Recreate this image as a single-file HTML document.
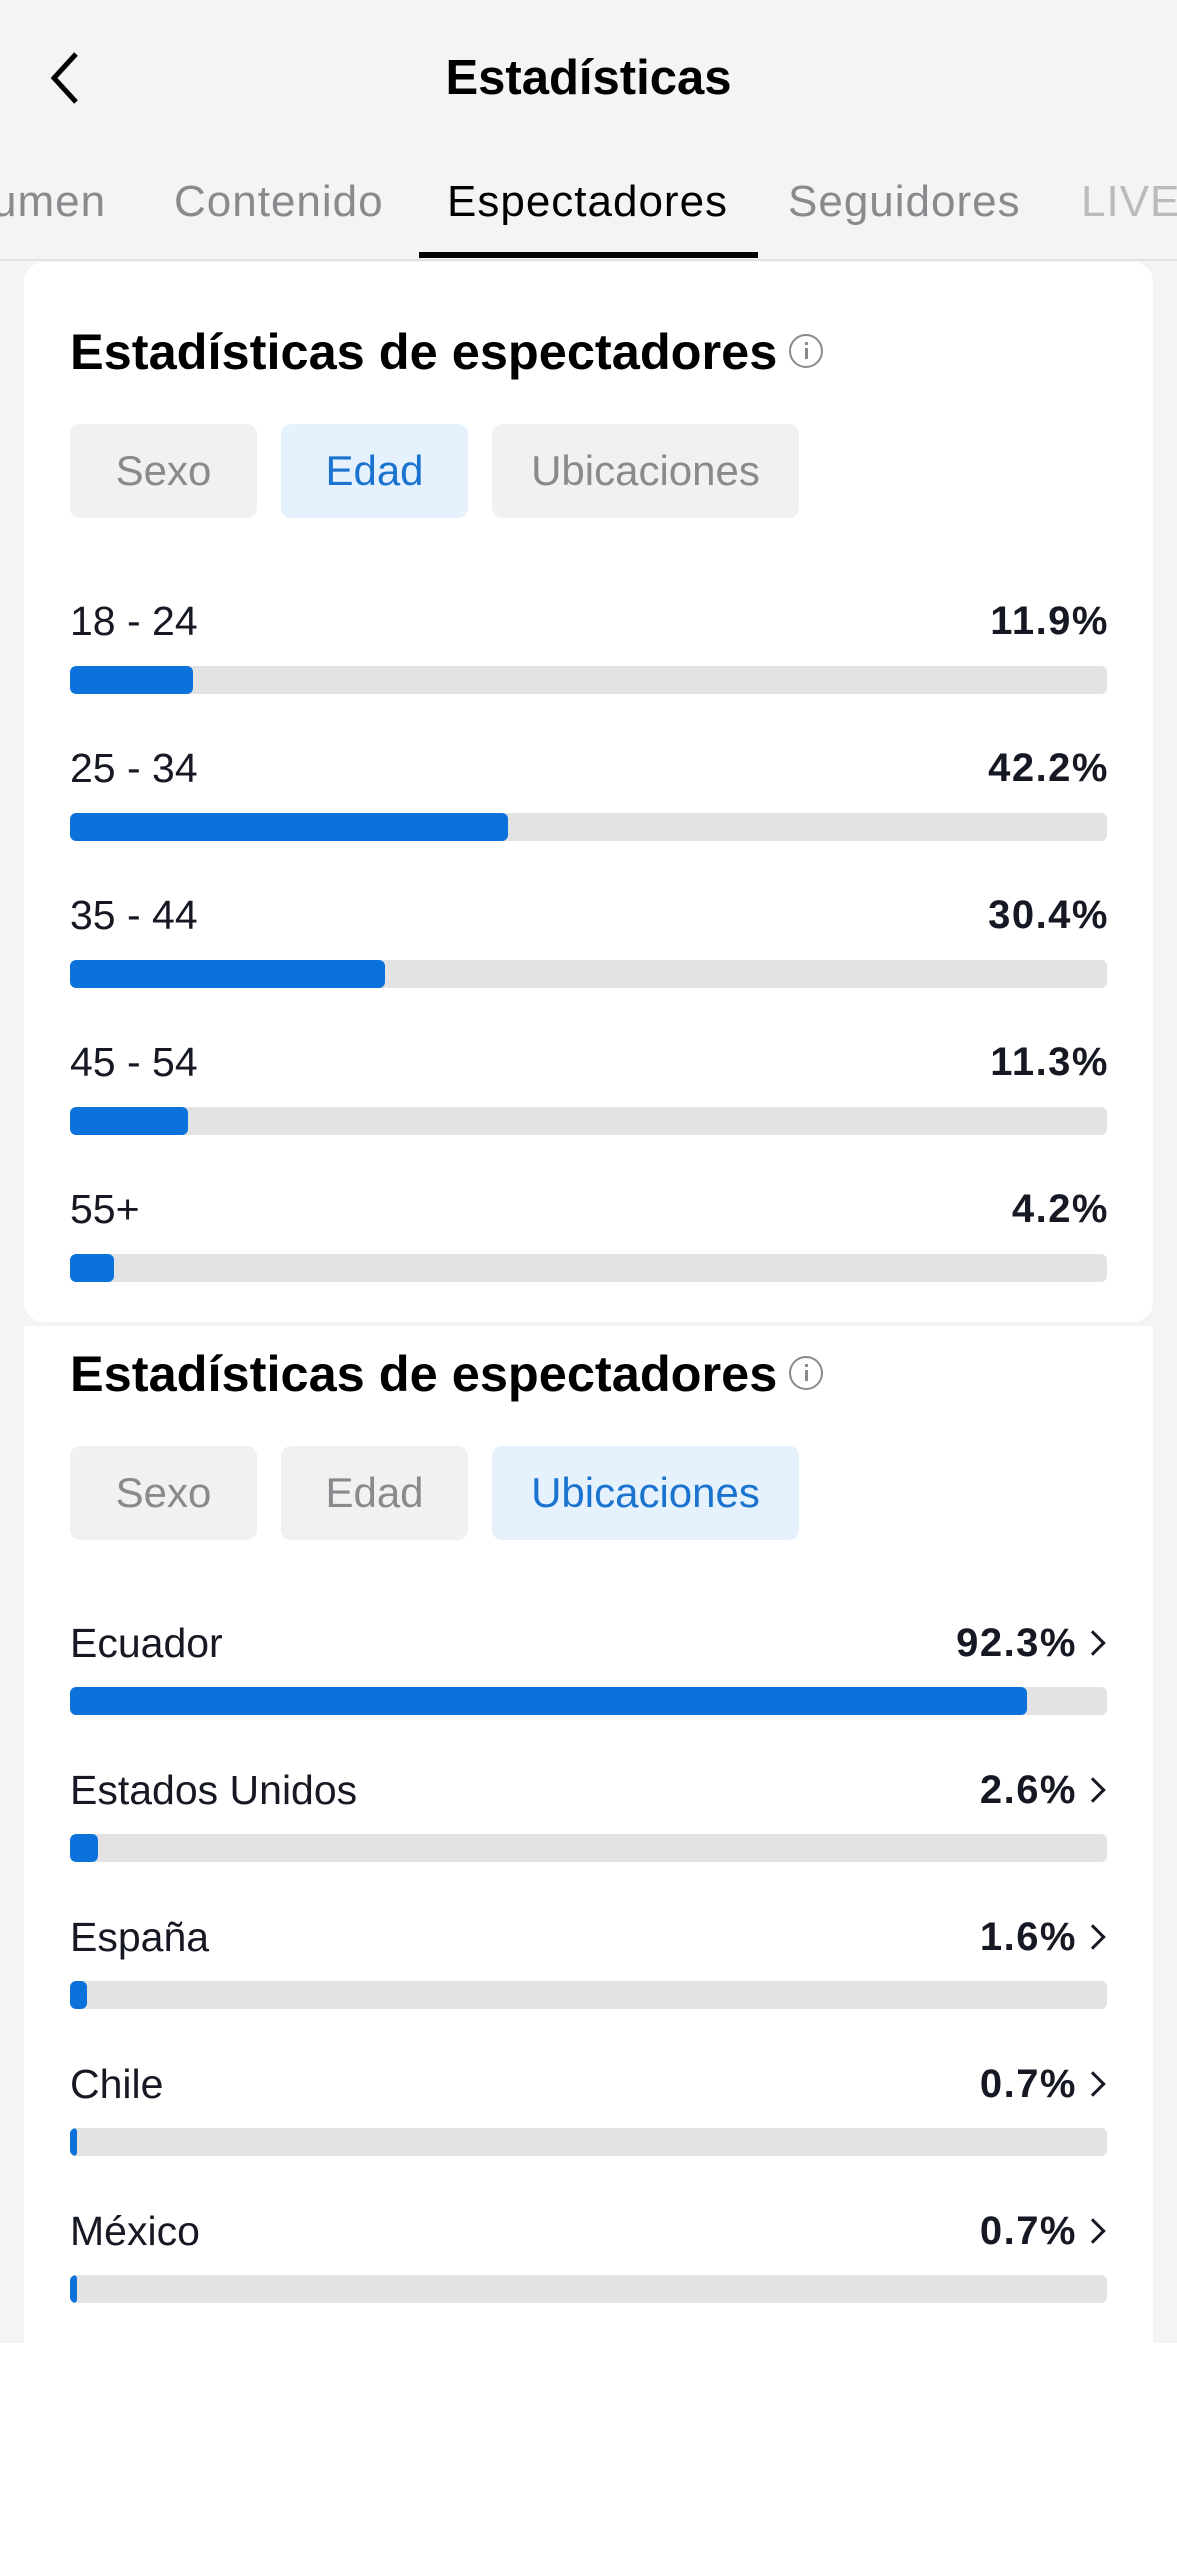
<!DOCTYPE html>
<html><head><meta charset="utf-8"><style>
*{margin:0;padding:0;box-sizing:border-box}
body{width:1177px;height:2560px;background:#fff;font-family:"Liberation Sans",sans-serif;position:relative;overflow:hidden;color:#161823}
.abs{position:absolute;white-space:nowrap}
.top{position:absolute;left:0;top:0;width:1177px;height:2343px;background:#f4f4f4}
.card{position:absolute;left:24px;width:1129px;background:#fff}
.tab{position:absolute;top:172px;font-size:44px;color:#8a8a8e;letter-spacing:1px;line-height:60px}
.title{position:absolute;left:70px;font-size:50.5px;font-weight:bold;color:#000;line-height:60px;letter-spacing:0}
.info{position:absolute;width:34px;height:34px;border:2.5px solid #8a8a8e;border-radius:50%;}
.info:before{content:"";position:absolute;left:13.5px;top:12px;width:3px;height:11px;background:#8a8a8e}
.info:after{content:"";position:absolute;left:13.5px;top:6px;width:3px;height:3px;background:#8a8a8e}
.btn{position:absolute;height:94px;border-radius:10px;background:#f1f1f2;color:#8a8a8e;font-size:42px;text-align:center;line-height:94px}
.btn.on{background:#e5f1fc;color:#1a73cf}
.lab{position:absolute;left:70px;font-size:41px;color:#161823;line-height:50px}
.pct{position:absolute;font-size:40px;font-weight:bold;color:#161823;line-height:50px;text-align:right;letter-spacing:1.5px}
.bar{position:absolute;left:70px;width:1037px;height:28px;background:#e3e3e4;border-radius:6px;overflow:hidden}
.bar i{position:absolute;left:0;top:0;height:28px;background:#0b72dc;border-radius:6px}
.chev{position:absolute;width:18px;height:18px;border-right:3.5px solid #161823;border-top:3.5px solid #161823;transform:rotate(45deg)}
</style></head><body>
<div class="top"></div>
<svg class="abs" style="left:44px;top:50px" width="40" height="56"><polyline points="32,4 10,28 32,52" fill="none" stroke="#000" stroke-width="5"/></svg>
<div class="abs" style="left:0;width:1177px;top:48px;text-align:center;font-size:49px;font-weight:bold;color:#000;line-height:60px">Estadísticas</div>
<div class="tab" style="left:-8px">umen</div>
<div class="tab" style="left:174px">Contenido</div>
<div class="tab" style="left:447px;color:#000">Espectadores</div>
<div class="tab" style="left:788px">Seguidores</div>
<div class="tab" style="left:1081px;color:#bbb">LIVE</div>
<div class="abs" style="left:0;top:259px;width:1177px;height:2px;background:#e2e2e2"></div>
<div class="abs" style="left:419px;top:252px;width:339px;height:6px;background:#000"></div>

<div class="card" style="top:262px;height:1060px;border-radius:20px"></div>
<div class="card" style="top:1326px;height:1017px"></div>

<div class="title" style="top:322px">Estadísticas de espectadores</div>
<div class="info" style="left:789px;top:334px"></div>
<div class="btn" style="left:70px;top:424px;width:187px">Sexo</div>
<div class="btn on" style="left:281px;top:424px;width:187px">Edad</div>
<div class="btn" style="left:492px;top:424px;width:307px">Ubicaciones</div>

<div class="lab" style="top:596px">18 - 24</div><div class="pct" style="top:596px;right:68px">11.9%</div>
<div class="bar" style="top:666px"><i style="width:123px"></i></div>
<div class="lab" style="top:743px">25 - 34</div><div class="pct" style="top:743px;right:68px">42.2%</div>
<div class="bar" style="top:813px"><i style="width:438px"></i></div>
<div class="lab" style="top:890px">35 - 44</div><div class="pct" style="top:890px;right:68px">30.4%</div>
<div class="bar" style="top:960px"><i style="width:315px"></i></div>
<div class="lab" style="top:1037px">45 - 54</div><div class="pct" style="top:1037px;right:68px">11.3%</div>
<div class="bar" style="top:1107px"><i style="width:118px"></i></div>
<div class="lab" style="top:1184px">55+</div><div class="pct" style="top:1184px;right:68px">4.2%</div>
<div class="bar" style="top:1254px"><i style="width:44px"></i></div>

<div class="title" style="top:1344px">Estadísticas de espectadores</div>
<div class="info" style="left:789px;top:1356px"></div>
<div class="btn" style="left:70px;top:1446px;width:187px">Sexo</div>
<div class="btn" style="left:281px;top:1446px;width:187px">Edad</div>
<div class="btn on" style="left:492px;top:1446px;width:307px">Ubicaciones</div>

<div class="lab" style="top:1618px">Ecuador</div><div class="pct" style="top:1618px;right:100px">92.3%</div><div class="chev" style="left:1084px;top:1634px"></div>
<div class="bar" style="top:1687px"><i style="width:957px"></i></div>
<div class="lab" style="top:1765px">Estados Unidos</div><div class="pct" style="top:1765px;right:100px">2.6%</div><div class="chev" style="left:1084px;top:1781px"></div>
<div class="bar" style="top:1834px"><i style="width:28px"></i></div>
<div class="lab" style="top:1912px">España</div><div class="pct" style="top:1912px;right:100px">1.6%</div><div class="chev" style="left:1084px;top:1928px"></div>
<div class="bar" style="top:1981px"><i style="width:17px"></i></div>
<div class="lab" style="top:2059px">Chile</div><div class="pct" style="top:2059px;right:100px">0.7%</div><div class="chev" style="left:1084px;top:2075px"></div>
<div class="bar" style="top:2128px"><i style="width:7px"></i></div>
<div class="lab" style="top:2206px">México</div><div class="pct" style="top:2206px;right:100px">0.7%</div><div class="chev" style="left:1084px;top:2222px"></div>
<div class="bar" style="top:2275px"><i style="width:7px"></i></div>
</body></html>
